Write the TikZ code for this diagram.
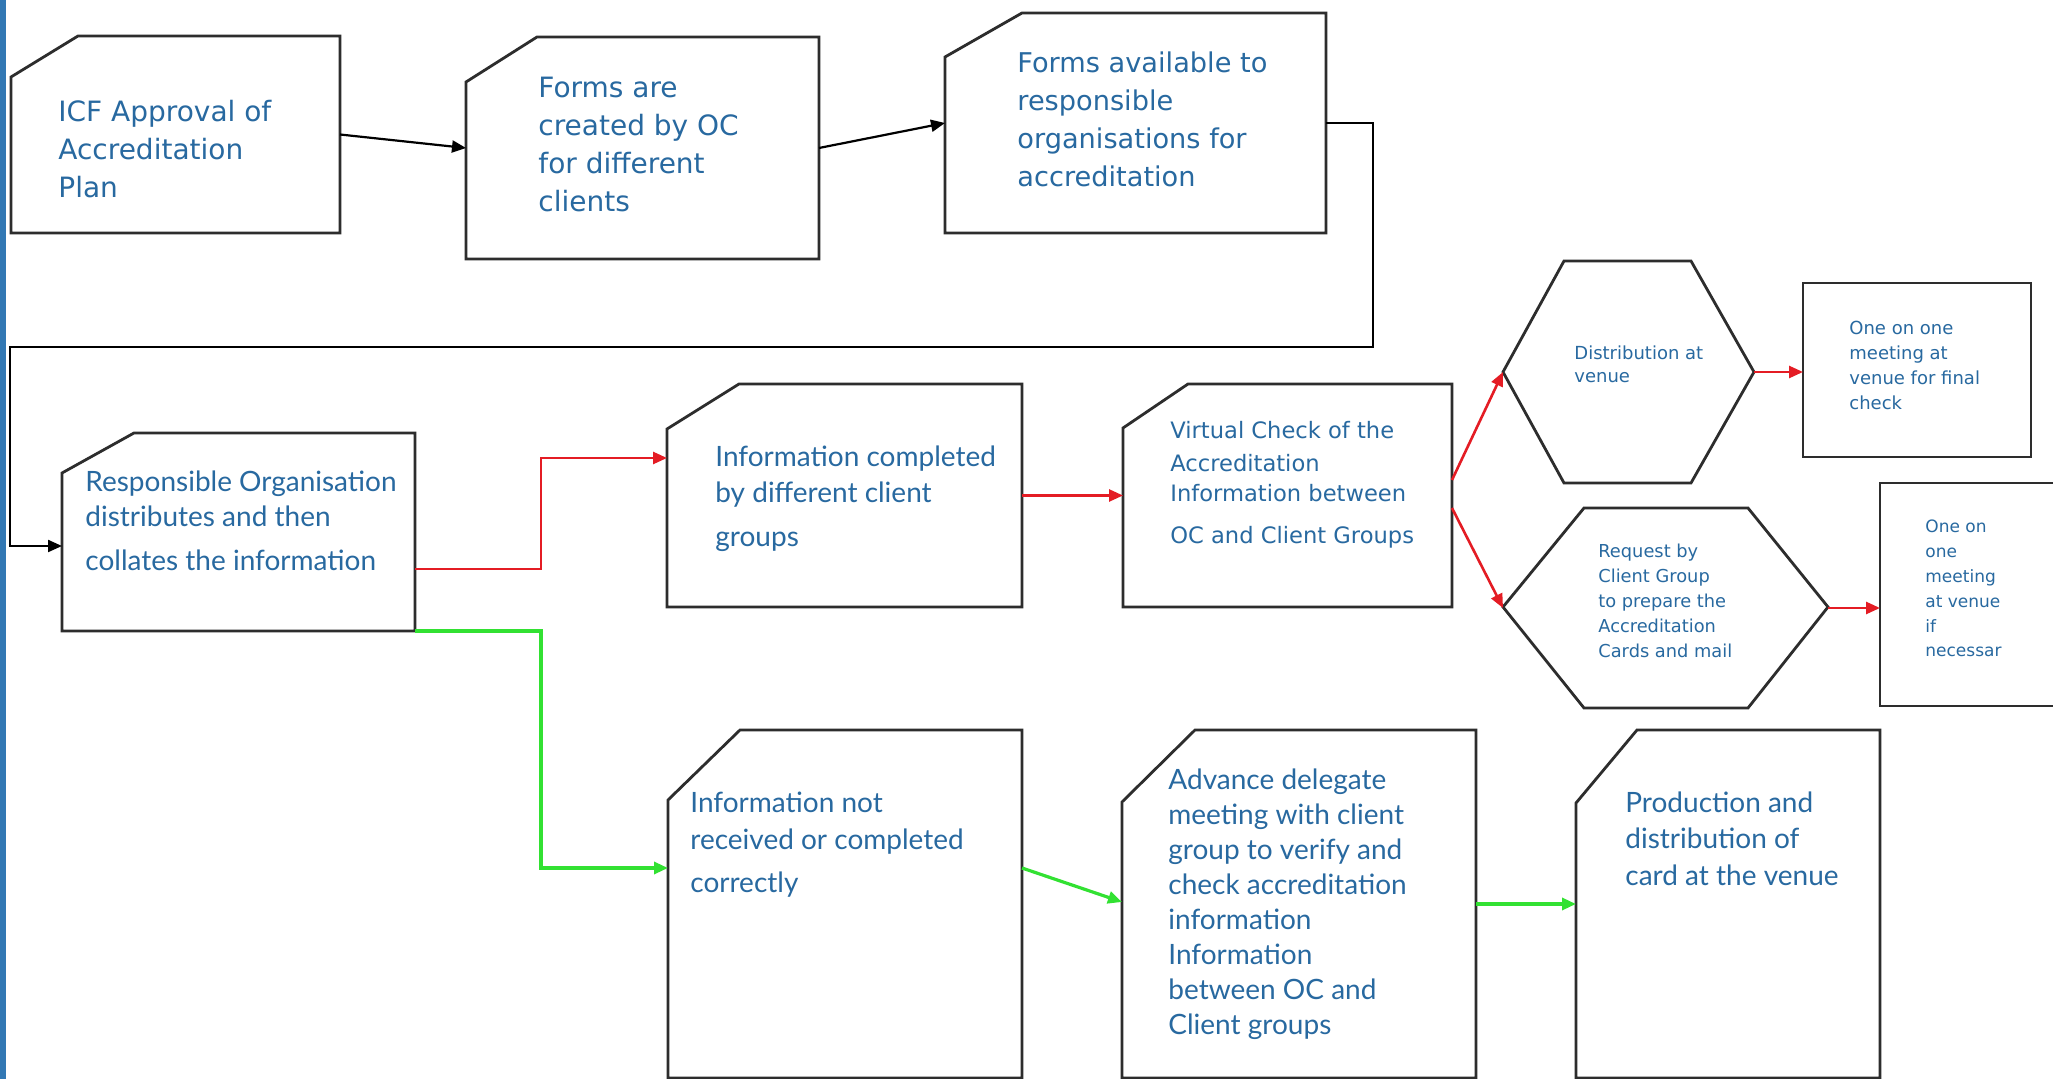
\documentclass[tikz,border=0pt]{standalone}
\usepackage{fontspec}
\usetikzlibrary{arrows.meta,fit,calc}
\newfontfamily\fdv{DejaVu Sans}
\newfontfamily\flato{Lato}
\definecolor{txtblue}{RGB}{40,105,160}
\definecolor{edge}{RGB}{45,45,45}
\definecolor{barblue}{RGB}{50,120,180}
\definecolor{redc}{RGB}{228,28,36}
\definecolor{greenc}{RGB}{50,225,50}
\newcommand\btxt[3]{\vtop{#1\baselineskip=#2\lineskiplimit=-100pt\lineskip=0pt\halign{##\hfil\cr#3\crcr}}}
\tikzset{
 frame/.style={inner sep=0pt, outer sep=0pt},
 boxline/.style={draw=edge, line width=1.4pt, line join=miter, fill=white},
 txt/.style={inner sep=0pt, anchor=base west, text=txtblue},
 blk/.style={draw=black, line width=1.1pt, -{Triangle[length=7pt,width=6pt]}},
 redarr/.style={draw=redc, line width=1.3pt, -{Triangle[length=7pt,width=6pt]}},
 grnarr/.style={draw=greenc, line width=1.6pt, -{Triangle[length=7pt,width=6pt]}},
}
\newcommand\cutbox[7]{%
 \node[frame, fit={(#2,#3) (#4,#5)}] (#1) {};
 \draw[boxline] (#2,#3+#7) -- (#2+#6,#3) -- (#4,#3) -- (#4,#5) -- (#2,#5) -- cycle;}
\newcommand\plainbox[5]{%
 \node[frame, fit={(#2,#3) (#4,#5)}] (#1) {};
 \draw[boxline] (#2,#3) rectangle (#4,#5);}
\newcommand\hexa[8]{%
 \node[frame, fit={(#2,#6) (#5,#8)}] (#1) {};
 \draw[boxline] (#2,#7) -- (#3,#6) -- (#4,#6) -- (#5,#7) -- (#4,#8) -- (#3,#8) -- cycle;}
\begin{document}
\begin{tikzpicture}[x=0.5pt,y=-0.5pt]
\path[use as bounding box] (0,0) rectangle (2053,1079);
\clip (0,0) rectangle (2053,1079);
\fill[white] (0,0) rectangle (2053,1079);
\fill[barblue] (0,0) rectangle (6,1079);

% boxes
\cutbox{b1}{11}{36}{340}{233}{67}{41}
\cutbox{b2}{466}{37}{819}{259}{71}{45}
\cutbox{b3}{945}{13}{1326}{233}{77}{44}
\cutbox{b4}{62}{433}{415}{631}{72}{40}
\cutbox{b5}{667}{384}{1022}{607}{72}{45}
\cutbox{b6}{1123}{384}{1452}{607}{65}{44}
\hexa{h1}{1503}{1564}{1691}{1754}{261}{372}{483}
\hexa{h2}{1503}{1584}{1748}{1828}{508}{607}{708}
\plainbox{b7}{1803}{283}{2031}{457}
\plainbox{b8}{1880}{483}{2090}{706}
\cutbox{b9}{668}{730}{1022}{1078}{72}{70}
\cutbox{b10}{1122}{730}{1476}{1078}{73}{72}
\cutbox{b11}{1576}{730}{1880}{1078}{61}{73}

% texts
\node[txt] (t1) at (58,122) {\btxt{\fdv\fontsize{14pt}{19pt}\selectfont}{19pt}{ICF Approval of\cr Accreditation\cr Plan}};
\node[txt] (t2) at (538,98) {\btxt{\fdv\fontsize{14pt}{19pt}\selectfont}{19pt}{Forms are\cr created by OC\cr for different\cr clients}};
\node[txt] (t3) at (1017,73) {\btxt{\fdv\fontsize{13.6pt}{19pt}\selectfont}{19pt}{Forms available to\cr responsible\cr organisations for\cr accreditation}};
\node[txt] (t4) at (85,492) {\btxt{\flato\fontsize{14pt}{17.5pt}\selectfont}{17.5pt}{Responsible Organisation\cr distributes and then\cr\noalign{\vskip4.5pt}collates the information}};
\node[txt] (t5) at (715,467) {\btxt{\flato\fontsize{14pt}{18pt}\selectfont}{18pt}{Information completed\cr by different client\cr\noalign{\vskip4pt}groups}};
\node[txt] (t6) at (1170,439) {\btxt{\fdv\fontsize{11.3pt}{15pt}\selectfont}{15pt}{Virtual Check of the\cr\noalign{\vskip1.5pt}Accreditation\cr Information between\cr\noalign{\vskip6pt}OC and Client Groups}};
\node[txt] (th1) at (1574,360) {\btxt{\fdv\fontsize{9pt}{11.5pt}\selectfont}{11.5pt}{Distribution at\cr venue}};
\node[txt] (t7) at (1849,335) {\btxt{\fdv\fontsize{9pt}{12.5pt}\selectfont}{12.5pt}{One on one\cr meeting at\cr venue for final\cr check}};
\node[txt] (th2) at (1598,558) {\btxt{\fdv\fontsize{8.9pt}{12.5pt}\selectfont}{12.5pt}{Request by\cr Client Group\cr to prepare the\cr Accreditation\cr Cards and mail}};
\node[txt] (t8) at (1925,533) {\btxt{\fdv\fontsize{8.5pt}{12.4pt}\selectfont}{12.4pt}{One on\cr one\cr meeting\cr at venue\cr if\cr necessar}};
\node[txt] (t9) at (690,813) {\btxt{\flato\fontsize{14pt}{18.5pt}\selectfont}{18.5pt}{Information not\cr received or completed\cr\noalign{\vskip3pt}correctly}};
\node[txt] (t10) at (1168,790) {\btxt{\flato\fontsize{14pt}{17.5pt}\selectfont}{17.5pt}{Advance delegate\cr meeting with client\cr group to verify and\cr check accreditation\cr information\cr Information\cr between OC and\cr Client groups}};
\node[txt] (t11) at (1625,813) {\btxt{\flato\fontsize{14pt}{18pt}\selectfont}{18pt}{Production and\cr distribution of\cr card at the venue}};

% connectors
\draw[blk] (b1.east) -- (b2.west);
\draw[blk] (b2.east) -- (b3.west);
\draw[blk] (b3.east) -- ++(47,0) |- (10,347) |- ([yshift=-7pt]b4.west);
\draw[redarr] ([yshift=-18.5pt]b4.east) -- ++(126,0) |- ([yshift=18.75pt]b5.west);
\draw[redarr] (b5.east) -- (b6.west);
\draw[redarr] ([yshift=7.75pt]b6.east) -- (h1.west);
\draw[redarr] ([yshift=-6.25pt]b6.east) -- (h2.west);
\draw[redarr] (h1.east) -- (h1.east -| b7.west);
\draw[redarr] (h2.east) -- (h2.east -| b8.west);
\draw[grnarr] (b4.south east) -- ++(126,0) |- ([yshift=18pt]b9.west);
\draw[grnarr] ([yshift=18pt]b9.east) -- ([yshift=1pt]b10.west);
\draw[grnarr] (b10.east) -- (b10.east -| b11.west);
\end{tikzpicture}
\end{document}
